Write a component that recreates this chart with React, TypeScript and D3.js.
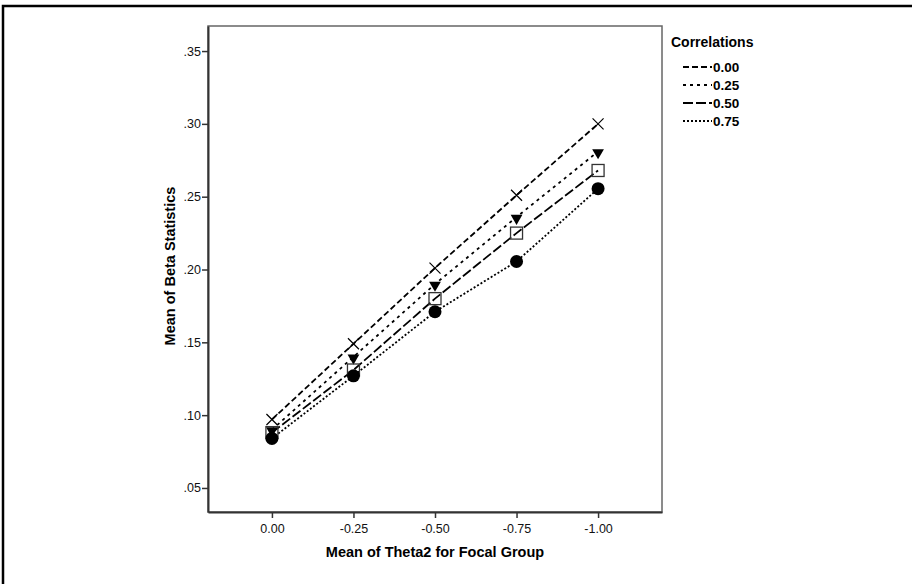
import * as d3 from "d3";
import { useEffect, useRef } from "react";

// данные
const thetaLevels = [0, -0.25, -0.5, -0.75, -1];
const xTickLabels = ["0.00", "-0.25", "-0.50", "-0.75", "-1.00"];
const yTicks = [0.05, 0.1, 0.15, 0.2, 0.25, 0.3, 0.35];
const yTickLabels = [".05", ".10", ".15", ".20", ".25", ".30", ".35"];
const corrLabels = ["0.00", "0.25", "0.50", "0.75"];
const corr000 = [0.097, 0.149, 0.201, 0.251, 0.3];
const corr025 = [0.09, 0.14, 0.19, 0.236, 0.281];
const corr050 = [0.088, 0.131, 0.18, 0.225, 0.268];
const corr075 = [0.084, 0.127, 0.171, 0.2055, 0.2555];

const W = 912;
const H = 584;
const FONT = "'Liberation Sans', Arial, sans-serif";

const App = () => {
  const ref = useRef<SVGSVGElement>(null);

  useEffect(() => {
    const svg = d3.select(ref.current);
    svg.selectAll("*").remove();

    const plot = { left: 208, top: 26, right: 662, bottom: 512 };

    const x = d3.scaleLinear().domain([0.196, -1.196]).range([plot.left, plot.right]);
    const y = d3.scaleLinear().domain([0.0335, 0.3672]).range([plot.bottom, plot.top]);

    // внешняя рамка
    svg.append("rect")
      .attr("x", 3).attr("y", 6).attr("width", W + 20).attr("height", H + 20)
      .attr("fill", "white").attr("stroke", "black").attr("stroke-width", 2.5);

    // рамка графика
    svg.append("rect")
      .attr("x", plot.left).attr("y", plot.top)
      .attr("width", plot.right - plot.left).attr("height", plot.bottom - plot.top)
      .attr("fill", "none").attr("stroke", "#666").attr("stroke-width", 1.5);

    // оси
    const yAxis = d3.axisLeft(y).tickValues(yTicks).tickSize(6).tickSizeOuter(0)
      .tickFormat((d, i) => yTickLabels[i]);
    const gy = svg.append("g").attr("transform", `translate(${plot.left},0)`).call(yAxis);
    const xAxis = d3.axisBottom(x).tickValues(thetaLevels).tickSize(6).tickSizeOuter(0)
      .tickFormat((d, i) => xTickLabels[i]);
    const gx = svg.append("g").attr("transform", `translate(0,${plot.bottom})`).call(xAxis);

    [gx, gy].forEach((g) => {
      g.select(".domain").attr("stroke", "#333").attr("stroke-width", 2);
      g.selectAll(".tick line").attr("stroke", "#333").attr("stroke-width", 1.5);
      g.selectAll(".tick text")
        .attr("fill", "#111").style("font-family", FONT).style("font-size", "12.5px");
    });
    gx.selectAll(".tick text").attr("dy", "0.9em").attr("y", 10);
    gy.selectAll(".tick text").attr("x", -7);

    // подписи осей
    svg.append("text")
      .attr("x", 435).attr("y", 557).attr("text-anchor", "middle")
      .style("font-family", FONT).style("font-size", "14.5px").style("font-weight", "bold")
      .text("Mean of Theta2 for Focal Group");
    svg.append("text")
      .attr("transform", `translate(175,${(plot.top + plot.bottom) / 2 - 3}) rotate(-90)`)
      .attr("text-anchor", "middle")
      .style("font-family", FONT).style("font-size", "14.5px").style("font-weight", "bold")
      .text("Mean of Beta Statistics");

    const series = [
      { vals: corr000, dash: "6,3", marker: "x" },
      { vals: corr025, dash: "3,4", marker: "tri" },
      { vals: corr050, dash: "10,3", marker: "sq" },
      { vals: corr075, dash: "2,2", marker: "dot" },
    ];

    const line = d3.line<number>()
      .x((d, i) => x(thetaLevels[i]))
      .y((d) => y(d));

    series.forEach((s) => {
      svg.append("path")
        .attr("d", line(s.vals))
        .attr("fill", "none").attr("stroke", "black")
        .attr("stroke-width", 1.8).attr("stroke-dasharray", s.dash);
    });

    // маркеры
    series.forEach((s) => {
      s.vals.forEach((v, i) => {
        const cx = x(thetaLevels[i]);
        const cy = y(v);
        if (s.marker === "x") {
          svg.append("path")
            .attr("d", `M${cx - 5.5},${cy - 5.5}L${cx + 5.5},${cy + 5.5}M${cx - 5.5},${cy + 5.5}L${cx + 5.5},${cy - 5.5}`)
            .attr("stroke", "black").attr("stroke-width", 1.2);
        } else if (s.marker === "tri") {
          svg.append("path")
            .attr("d", d3.symbol().type(d3.symbolTriangle).size(60)())
            .attr("transform", `translate(${cx},${cy + 1}) rotate(180)`)
            .attr("fill", "black");
        } else if (s.marker === "sq") {
          svg.append("rect")
            .attr("x", cx - 6).attr("y", cy - 6).attr("width", 12).attr("height", 12)
            .attr("fill", "none").attr("stroke", "#333").attr("stroke-width", 1.3);
        } else {
          svg.append("circle")
            .attr("cx", cx).attr("cy", cy).attr("r", 6.5).attr("fill", "black");
        }
      });
    });

    // легенда
    const legend = svg.append("g");
    legend.append("text")
      .attr("x", 671).attr("y", 47)
      .style("font-family", FONT).style("font-size", "14px").style("font-weight", "bold")
      .text("Correlations");
    series.forEach((s, i) => {
      const ly = 67 + i * 18;
      legend.append("line")
        .attr("x1", 683).attr("x2", 712).attr("y1", ly).attr("y2", ly)
        .attr("stroke", "black").attr("stroke-width", 1.8).attr("stroke-dasharray", s.dash);
      legend.append("text")
        .attr("x", 713).attr("y", ly + 5)
        .style("font-family", FONT).style("font-size", "13.5px").style("font-weight", "bold")
        .text(corrLabels[i]);
    });
  }, []);

  return (
    <svg
      ref={ref}
      width={W}
      height={H}
      style={{ position: "absolute", left: 0, top: 0, background: "white" }}
    />
  );
};

export default App;
